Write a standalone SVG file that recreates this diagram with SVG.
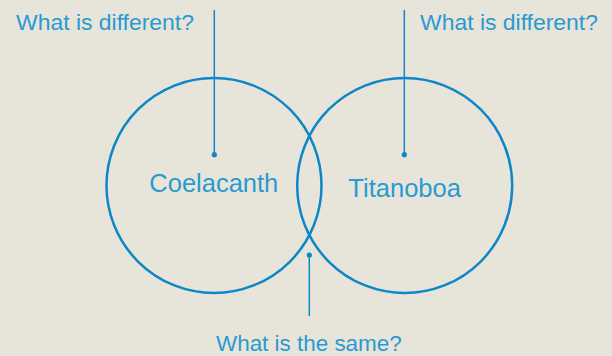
<svg xmlns="http://www.w3.org/2000/svg" width="612" height="356" viewBox="0 0 612 356">
<style>
.bg{fill:#e8e4d9}
.circ{fill:none;stroke:#0a88c8;stroke-width:2.5}
.ln{stroke:#0a88c8;stroke-width:1.5}
.dot{fill:#0a88c8}
text{font-family:"Liberation Sans",Arial,sans-serif;fill:#2a9ad2}
.lbl{font-size:22px}
.big{font-size:25px}
</style>
<rect class="bg" x="0" y="0" width="612" height="356"/>
<g id="coelacanth">
<circle class="circ" cx="214" cy="185.5" r="107.5"/>
<text class="big" x="149.3" y="192.3" textLength="129" lengthAdjust="spacingAndGlyphs">Coelacanth</text>
</g>
<g id="titanoboa">
<circle class="circ" cx="404.7" cy="185.5" r="107.5"/>
<text class="big" x="348.3" y="196.7" textLength="112.7" lengthAdjust="spacingAndGlyphs">Titanoboa</text>
</g>
<g id="label-left">
<text class="lbl" x="16" y="30" textLength="178" lengthAdjust="spacingAndGlyphs">What is different?</text>
</g>
<g id="label-right">
<text class="lbl" x="420" y="30" textLength="178" lengthAdjust="spacingAndGlyphs">What is different?</text>
</g>
<g id="label-bottom">
<text class="lbl" x="216" y="351" textLength="185.7" lengthAdjust="spacingAndGlyphs">What is the same?</text>
</g>
<g id="connectors">
<line class="ln" x1="214.3" y1="10" x2="214.3" y2="154.7"/>
<circle class="dot" cx="214.3" cy="154.7" r="2.6"/>
<line class="ln" x1="404.3" y1="10" x2="404.3" y2="154.7"/>
<circle class="dot" cx="404.3" cy="154.7" r="2.6"/>
<line class="ln" x1="309.3" y1="255" x2="309.3" y2="316"/>
<circle class="dot" cx="309.3" cy="255" r="2.6"/>
</g>
</svg>
